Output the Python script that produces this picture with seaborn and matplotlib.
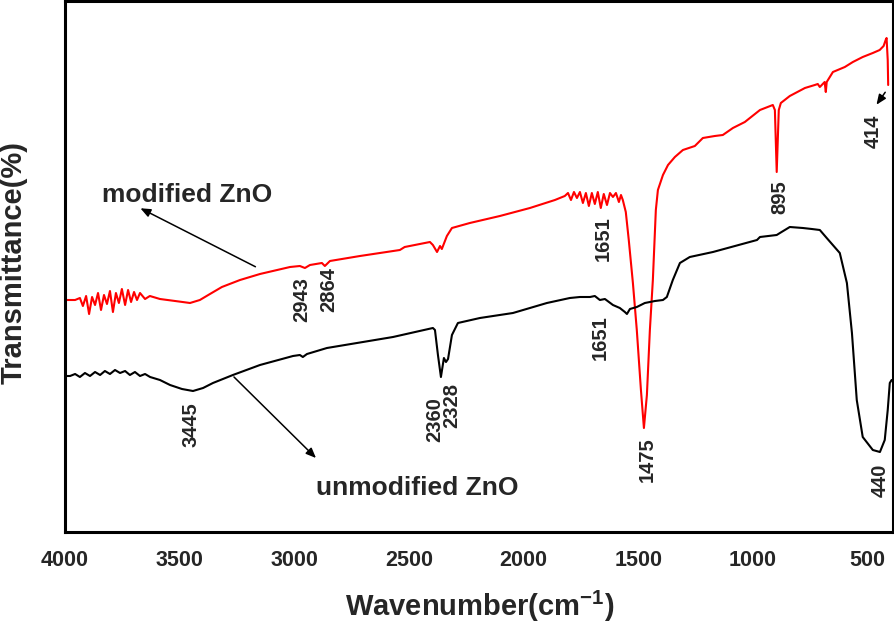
import numpy as np
import pandas as pd
import matplotlib
matplotlib.use("Agg")
import matplotlib.pyplot as plt
import seaborn as sns

# ---------------- data ----------------
mod_wn = [4000, 3956, 3935, 3922, 3908, 3895, 3882, 3869, 3856, 3843, 3830, 3817, 3804, 3791,
          3778, 3765, 3752, 3738, 3725, 3712, 3699, 3686, 3673, 3651, 3630, 3586, 3520, 3455,
          3412, 3368, 3316, 3237, 3150, 3019, 2976, 2954, 2932, 2880, 2867, 2845, 2714, 2540,
          2519, 2409, 2396, 2378, 2365, 2357, 2335, 2313, 2235, 2104, 1973, 1864, 1821, 1807,
          1794, 1781, 1768, 1755, 1742, 1729, 1716, 1703, 1690, 1677, 1664, 1651, 1637, 1624,
          1611, 1598, 1585, 1576, 1568, 1555, 1542, 1524, 1507, 1489, 1476, 1463, 1450, 1437,
          1424, 1415, 1393, 1371, 1341, 1306, 1254, 1219, 1167, 1132, 1088, 1036, 970, 914,
          905, 897, 888, 879, 840, 774, 731, 718, 709, 688, 683, 679, 652, 600, 565, 522,
          478, 448, 431, 422, 418, 413, 411]
mod_px = [300, 300, 298, 306, 296, 314, 297, 305, 293, 310, 295, 304, 291, 312,
          293, 303, 289, 305, 290, 302, 292, 300, 293, 299, 296, 299, 301, 303,
          300, 294, 287, 280, 274, 267, 266, 268, 265, 263, 266, 261, 256, 250,
          247, 242, 245, 252, 246, 249, 236, 228, 223, 216, 208, 200, 196, 193,
          200, 192, 198, 192, 203, 193, 206, 193, 204, 192, 208, 194, 205, 193,
          197, 193, 202, 195, 200, 212, 240, 283, 330, 390, 428, 395, 330, 280,
          210, 190, 175, 165, 157, 150, 146, 138, 136, 135, 128, 122, 110, 105,
          110, 172, 110, 103, 96, 88, 85, 84, 87, 82, 92, 82, 72, 67, 62, 57,
          53, 50, 46, 40, 38, 60, 85]

unmod_wn = [4000, 3978, 3956, 3935, 3913, 3891, 3869, 3847, 3826, 3804, 3782, 3760, 3738,
            3717, 3695, 3673, 3651, 3629, 3586, 3542, 3490, 3442, 3398, 3355, 3268, 3150,
            3006, 2976, 2963, 2945, 2858, 2570, 2396, 2387, 2374, 2361, 2348, 2339, 2330,
            2313, 2287, 2191, 2047, 1899, 1799, 1755, 1711, 1690, 1668, 1646, 1611, 1581,
            1559, 1550, 1537, 1507, 1472, 1428, 1393, 1376, 1350, 1319, 1276, 1175, 983,
            970, 897, 883, 840, 783, 744, 709, 679, 622, 591, 569, 548, 522, 478, 447,
            426, 413, 404, 396]
unmod_px = [376, 376, 374, 377, 373, 376, 372, 375, 371, 374, 370, 373, 371,
            375, 372, 376, 374, 377, 380, 385, 389, 391, 388, 383, 375, 365,
            356, 355, 357, 354, 348, 337, 328, 330, 355, 377, 358, 362, 359,
            335, 323, 318, 313, 303, 298, 297, 297, 296, 300, 299, 305, 308,
            312, 314, 309, 307, 303, 301, 300, 297, 280, 263, 257, 252, 240,
            237, 235, 233, 227, 228, 229, 230, 238, 253, 283, 333, 400, 437, 450, 452,
            440, 410, 383, 380]

mod_T = [532 - v for v in mod_px]
unmod_T = [532 - v for v in unmod_px]

peak_labels = ["3445", "2943", "2864", "2360", "2328", "1651", "1651", "1475", "895", "414", "440"]
peak_x = [3451, 2967, 2849, 2387, 2313, 1655, 1668, 1463, 883, 478, 447]
peak_y = [107, 232, 242, 112, 127, 293, 194, 72, 335, 401, 52]

x_ticks = [4000, 3500, 3000, 2500, 2000, 1500, 1000, 500]

df_mod = pd.DataFrame({"wn": mod_wn, "T": mod_T})
df_unmod = pd.DataFrame({"wn": unmod_wn, "T": unmod_T})

# ---------------- plot ----------------
sns.set_style("white")
plt.rcParams["font.family"] = ["Liberation Sans", "DejaVu Sans"]
plt.rcParams["font.weight"] = "bold"
plt.rcParams["mathtext.fontset"] = "custom"
plt.rcParams["mathtext.bf"] = "Liberation Sans:bold"
plt.rcParams["mathtext.rm"] = "Liberation Sans:bold"
plt.rcParams["mathtext.default"] = "bf"

fig = plt.figure(figsize=(8.95, 6.24), dpi=100)
ax = fig.add_axes([65 / 895, (624 - 532) / 624, 828 / 895, 531 / 624])

sns.lineplot(data=df_mod, x="wn", y="T", ax=ax, color="#ff0000", lw=1.5,
             sort=False, estimator=None)
sns.lineplot(data=df_unmod, x="wn", y="T", ax=ax, color="black", lw=1.5,
             sort=False, estimator=None)

ax.set_xlim(4000, 390)
ax.set_ylim(0, 531)
ax.set_xticks(x_ticks)
ax.set_xticklabels([str(t) for t in x_ticks], fontsize=15.5, fontweight="bold")
ax.set_yticks([])
ax.tick_params(axis="x", direction="in", length=8, width=2, pad=13)
for s in ax.spines.values():
    s.set_linewidth(2.2)
    s.set_color("black")

ax.set_xlabel("Wavenumber(cm$^{-1}$)", fontsize=21, fontweight="bold")
ax.set_ylabel("Transmittance(%)", fontsize=21, fontweight="bold")
ax.xaxis.label.set_va("center")
ax.yaxis.label.set_va("center")
ax.xaxis.set_label_coords((480 - 65) / 828, (532 - 606) / 531)
ax.yaxis.set_label_coords((14 - 65) / 828, (532 - 262) / 531)

for lab, xx, yy in zip(peak_labels, peak_x, peak_y):
    ax.text(xx, yy, lab, rotation=90, ha="center", va="center",
            fontsize=14.5, fontweight="bold")

ax.text(3468, 337, "modified ZnO", ha="center", va="center", fontsize=19, fontweight="bold")
ax.text(2466, 44, "unmodified ZnO", ha="center", va="center", fontsize=19, fontweight="bold")

arrow_kw = dict(arrowstyle="-|>,head_length=0.6,head_width=0.25", color="black", lw=1.1)
ax.annotate("", xy=(3682, 325), xytext=(3159, 264), arrowprops=arrow_kw)
ax.annotate("", xy=(2897, 72), xytext=(3272, 157), arrowprops=arrow_kw)
ax.annotate("", xy=(469, 425), xytext=(417, 442), arrowprops=arrow_kw)

fig.savefig("out.png", dpi=100)
